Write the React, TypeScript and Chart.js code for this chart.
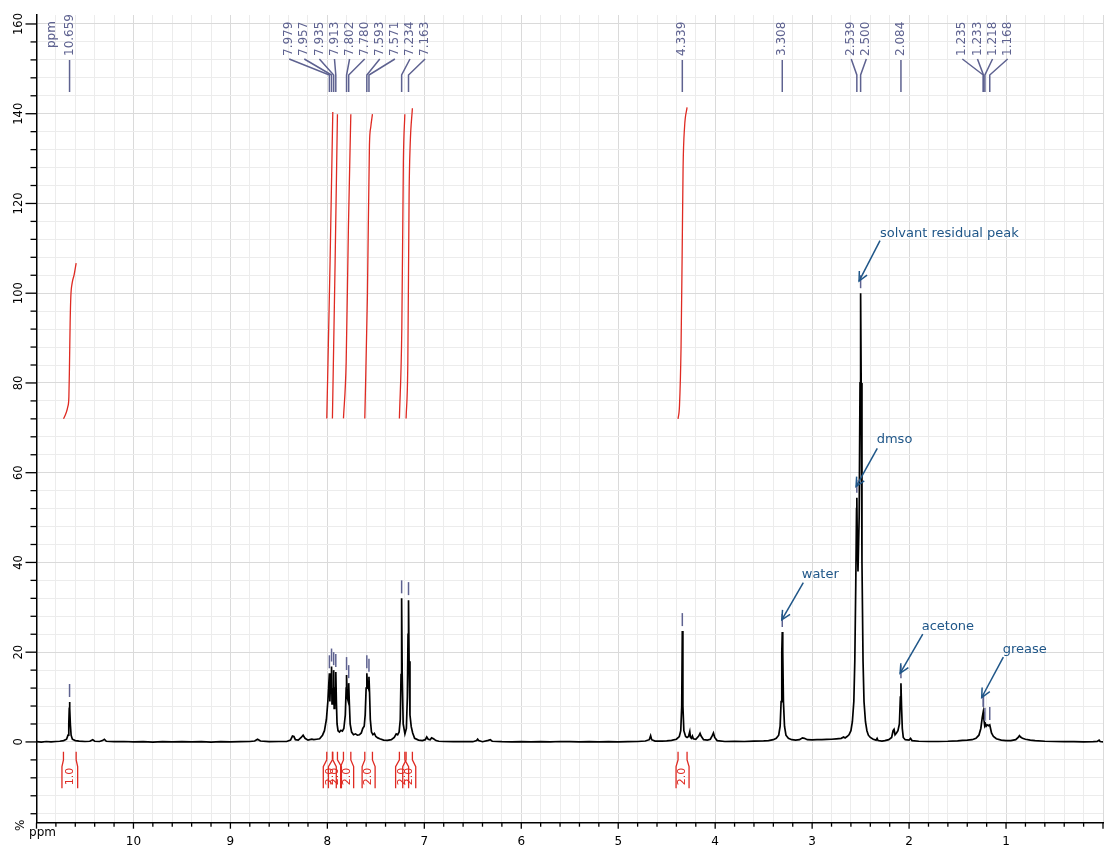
import React, { useEffect, useRef } from 'react';
import { Chart, registerables } from 'chart.js';

Chart.register(...registerables);

// ---------- data ----------
// 1H NMR trace: [chemical shift (ppm), intensity (%)]
const spectrumPoints: [number, number][] = [
  [11.0, 0.05], [10.95, -0.05], [10.9, 0.1], [10.85, 0.0], [10.8, 0.1], [10.76, 0.15], [10.72, 0.3],
  [10.69, 0.6], [10.675, 1.5], [10.667, 4.0], [10.662, 7.5], [10.659, 8.9], [10.656, 7.5], [10.651, 4.0],
  [10.643, 1.5], [10.63, 0.6], [10.6, 0.3], [10.56, 0.2], [10.5, 0.1], [10.45, 0.15], [10.42, 0.5],
  [10.40, 0.15], [10.35, 0.1], [10.32, 0.3], [10.30, 0.6], [10.28, 0.15], [10.2, 0.05], [10.1, 0.1],
  [10.0, 0.0], [9.9, 0.05], [9.8, -0.05], [9.7, 0.05], [9.6, 0.0], [9.5, 0.05], [9.4, 0.0], [9.3, 0.05],
  [9.2, -0.05], [9.1, 0.05], [9.0, 0.0], [8.9, 0.05], [8.8, 0.1], [8.75, 0.2], [8.72, 0.6], [8.69, 0.2],
  [8.6, 0.05], [8.5, 0.1], [8.42, 0.1], [8.38, 0.4], [8.36, 1.3], [8.345, 1.2], [8.33, 0.5], [8.3, 0.4],
  [8.27, 1.0], [8.25, 1.5], [8.23, 0.8], [8.2, 0.4], [8.16, 0.6], [8.14, 0.5], [8.11, 0.6], [8.08, 0.7],
  [8.05, 1.5], [8.03, 2.5], [8.01, 5.0], [7.995, 9.0], [7.985, 13.0], [7.979, 15.3], [7.974, 9.0],
  [7.968, 13.0], [7.962, 14.0], [7.957, 16.8], [7.952, 8.5], [7.946, 12.0], [7.940, 10.0], [7.935, 16.0],
  [7.930, 7.5], [7.924, 10.0], [7.918, 12.0], [7.913, 15.6], [7.907, 9.0], [7.900, 4.0], [7.89, 2.5],
  [7.875, 2.2], [7.86, 2.6], [7.845, 2.4], [7.83, 3.0], [7.815, 6.0], [7.806, 12.0], [7.802, 14.9],
  [7.796, 10.0], [7.790, 9.5], [7.784, 11.5], [7.780, 13.1], [7.774, 9.0], [7.765, 4.0], [7.75, 2.2],
  [7.73, 1.6], [7.71, 1.8], [7.69, 1.5], [7.67, 1.6], [7.65, 2.0], [7.635, 3.0], [7.62, 3.5], [7.61, 6.0],
  [7.60, 12.0], [7.593, 15.3], [7.588, 13.0], [7.582, 12.5], [7.576, 13.5], [7.571, 14.5], [7.565, 11.0],
  [7.557, 5.0], [7.545, 2.2], [7.53, 1.6], [7.515, 1.9], [7.50, 1.2], [7.48, 0.9], [7.46, 0.7], [7.42, 0.4],
  [7.38, 0.35], [7.34, 0.5], [7.31, 1.0], [7.29, 1.8], [7.275, 1.6], [7.26, 2.2], [7.248, 5.0],
  [7.240, 15.0], [7.234, 32.0], [7.228, 15.0], [7.218, 4.0], [7.20, 1.8], [7.185, 3.0], [7.175, 10.0],
  [7.168, 24.0], [7.163, 31.6], [7.157, 18.0], [7.148, 6.0], [7.135, 3.4], [7.12, 2.0], [7.10, 0.8],
  [7.06, 0.4], [7.02, 0.3], [6.99, 0.5], [6.975, 1.1], [6.96, 0.6], [6.94, 0.5], [6.925, 0.9], [6.905, 0.7],
  [6.88, 0.3], [6.85, 0.15], [6.8, 0.1], [6.7, 0.05], [6.6, 0.1], [6.5, 0.05], [6.46, 0.3], [6.45, 0.6],
  [6.44, 0.3], [6.4, 0.05], [6.34, 0.35], [6.32, 0.5], [6.3, 0.15], [6.2, 0.05], [6.1, 0.0], [6.0, 0.05],
  [5.9, 0.0], [5.8, 0.05], [5.7, 0.0], [5.6, 0.1], [5.5, 0.05], [5.4, 0.0], [5.3, 0.05], [5.2, 0.0],
  [5.1, 0.05], [5.0, 0.0], [4.9, 0.05], [4.8, 0.1], [4.72, 0.2], [4.68, 0.5], [4.666, 1.4], [4.655, 0.5],
  [4.62, 0.2], [4.55, 0.2], [4.5, 0.25], [4.45, 0.35], [4.40, 0.6], [4.37, 1.2], [4.355, 2.5],
  [4.345, 8.0], [4.339, 24.7], [4.333, 8.0], [4.323, 2.5], [4.305, 1.2], [4.29, 1.0], [4.275, 1.2],
  [4.262, 2.3], [4.255, 1.0], [4.245, 0.8], [4.235, 1.3], [4.225, 0.7], [4.2, 0.6], [4.17, 1.3],
  [4.156, 1.9], [4.145, 1.3], [4.12, 0.5], [4.08, 0.4], [4.05, 0.6], [4.03, 1.4], [4.018, 2.0],
  [4.005, 1.0], [3.98, 0.3], [3.9, 0.1], [3.8, 0.15], [3.7, 0.1], [3.6, 0.2], [3.5, 0.25], [3.45, 0.3],
  [3.40, 0.5], [3.37, 0.8], [3.345, 1.5], [3.33, 3.5], [3.32, 9.0], [3.313, 20.0], [3.308, 24.5],
  [3.303, 20.0], [3.296, 9.0], [3.285, 3.5], [3.27, 1.5], [3.245, 0.8], [3.21, 0.5], [3.17, 0.4],
  [3.13, 0.5], [3.10, 0.9], [3.08, 0.8], [3.05, 0.5], [3.0, 0.45], [2.95, 0.5], [2.9, 0.5], [2.85, 0.55],
  [2.8, 0.6], [2.75, 0.7], [2.7, 0.8], [2.675, 1.1], [2.66, 0.9], [2.64, 1.2], [2.62, 1.6], [2.60, 2.5],
  [2.585, 4.5], [2.57, 9.0], [2.56, 18.0], [2.55, 35.0], [2.542, 52.0], [2.539, 54.4], [2.534, 44.0],
  [2.527, 38.0], [2.515, 50.0], [2.506, 80.0], [2.500, 100.0], [2.494, 80.0], [2.486, 40.0],
  [2.475, 18.0], [2.465, 9.0], [2.45, 4.5], [2.435, 2.5], [2.42, 1.5], [2.40, 1.0], [2.37, 0.6],
  [2.34, 0.4], [2.33, 0.8], [2.32, 0.3], [2.28, 0.2], [2.25, 0.3], [2.21, 0.5], [2.18, 1.0], [2.165, 2.5],
  [2.155, 2.8], [2.145, 1.6], [2.13, 2.0], [2.115, 2.5], [2.10, 4.0], [2.09, 10.0], [2.084, 13.1],
  [2.078, 8.0], [2.07, 3.0], [2.06, 1.0], [2.04, 0.5], [2.0, 0.4], [1.985, 0.8], [1.97, 0.3], [1.9, 0.15],
  [1.8, 0.1], [1.7, 0.1], [1.6, 0.15], [1.5, 0.25], [1.45, 0.35], [1.4, 0.4], [1.35, 0.5], [1.31, 0.8],
  [1.28, 1.5], [1.26, 3.0], [1.245, 5.5], [1.235, 6.7], [1.228, 5.0], [1.22, 3.6], [1.212, 4.0],
  [1.205, 3.5], [1.195, 3.8], [1.18, 3.6], [1.168, 3.8], [1.16, 3.0], [1.15, 2.0], [1.13, 1.2], [1.1, 0.7],
  [1.05, 0.4], [1.0, 0.3], [0.95, 0.3], [0.9, 0.5], [0.875, 1.0], [0.862, 1.4], [0.85, 1.1], [0.83, 0.8],
  [0.8, 0.6], [0.75, 0.4], [0.7, 0.3], [0.6, 0.15], [0.5, 0.1], [0.4, 0.05], [0.3, 0.05], [0.2, 0.0],
  [0.1, 0.05], [0.06, 0.1], [0.04, 0.4], [0.03, 0.1], [0.0, 0.0],
];

// integration curves: [ppm, value]
const integral1: [number, number][] = [
  [10.722, 72.0], [10.697, 73.2], [10.677, 74.7], [10.666, 76.9], [10.66, 83.6], [10.653, 93.4],
  [10.646, 99.2], [10.632, 102.3], [10.612, 104.1], [10.591, 106.7],
];
const integral2: [number, number][] = [[8.006, 72.1], [7.972, 107.0], [7.944, 140.4]];
const integral3: [number, number][] = [[7.948, 72.1], [7.92, 107.0], [7.896, 139.9]];
const integral4: [number, number][] = [[7.834, 72.1], [7.806, 84.7], [7.783, 114.5], [7.758, 139.9]];
const integral5: [number, number][] = [[7.614, 72.1], [7.587, 99.4], [7.566, 133.0], [7.552, 137.1], [7.535, 139.9]];
const integral6: [number, number][] = [[7.257, 72.1], [7.232, 92.2], [7.216, 129.3], [7.201, 139.9]];
const integral7: [number, number][] = [[7.188, 72.1], [7.17, 84.7], [7.157, 121.9], [7.146, 133.0], [7.123, 141.2]];
const integral8: [number, number][] = [
  [4.383, 72.0], [4.368, 75.0], [4.352, 88.0], [4.341, 108.0], [4.331, 128.0], [4.316, 137.0], [4.29, 141.4],
];
const integralCurves = [integral1, integral2, integral3, integral4, integral5, integral6, integral7, integral8];
const integralLabels = ['1.0', '2.0', '2.0', '2.0', '2.0', '2.0', '2.0', '2.0'];

// peak picking labels (ppm), grouped as in the header
const peakLabelGroups: number[][] = [
  [10.659],
  [7.979, 7.957, 7.935, 7.913, 7.802, 7.78, 7.593, 7.571, 7.234, 7.163],
  [4.339],
  [3.308],
  [2.539, 2.5],
  [2.084],
  [1.235, 1.233, 1.218, 1.168],
];
const peakGroupCenters: number[] = [10.659, 7.693, 4.339, 3.308, 2.519, 2.084, 1.217];

// annotations
const annotationTexts = ['solvant residual peak', 'dmso', 'water', 'acetone', 'grease'];
const annotationTips: [number, number][] = [[2.516, 102.7], [2.547, 56.9], [3.313, 27.2], [2.093, 15.3], [1.251, 9.9]];
const annotationTails: [number, number][] = [[2.3, 111.7], [2.328, 65.4], [3.091, 35.5], [1.859, 24.0], [1.028, 18.9]];
const annotationAnchors: [number, number][] = [[2.3, 113.3], [2.334, 67.3], [3.107, 37.2], [1.87, 25.8], [1.034, 20.5]];

// axes
const xTickLabels = [10, 9, 8, 7, 6, 5, 4, 3, 2, 1];
const yTickLabels = [0, 20, 40, 60, 80, 100, 120, 140, 160];
const X_MIN = 0, X_MAX = 11, X_MINOR = 0.2;
const Y_MIN = -18, Y_MAX = 162, Y_MINOR = 4;

// ---------- styles ----------
const FONT = '"DejaVu Sans", Verdana, sans-serif';
const SLATE = '#5e6290';
const RED = '#df2a22';
const BLUE = '#1f5688';
const GRID_MAJOR = '#dadada';
const GRID_MINOR = '#ececec';

function peakHeightAt(p: number): number {
  let best = -Infinity;
  for (const [s, v] of spectrumPoints) if (Math.abs(s - p) < 0.0041 && v > best) best = v;
  return best === -Infinity ? 0 : best;
}

function minorValues(min: number, max: number, step: number): number[] {
  const out: number[] = [];
  const start = Math.ceil(min / step - 1e-9);
  const end = Math.floor(max / step + 1e-9);
  for (let k = start; k <= end; k++) out.push(+(k * step).toFixed(6));
  return out;
}

const isMultiple = (v: number, m: number) => Math.abs(v / m - Math.round(v / m)) < 1e-6;

const overlayPlugin = {
  id: 'nmrOverlay',
  afterDraw(chart: any) {
    const { ctx, chartArea: a } = chart;
    const xs = chart.scales.x, ys = chart.scales.y;
    const px = (v: number) => xs.getPixelForValue(v);
    const py = (v: number) => ys.getPixelForValue(v);
    const seg = (x1: number, y1: number, x2: number, y2: number) => {
      ctx.beginPath(); ctx.moveTo(x1, y1); ctx.lineTo(x2, y2); ctx.stroke();
    };
    const rotText = (t: string, x: number, y: number, align: CanvasTextAlign) => {
      ctx.save(); ctx.translate(x, y); ctx.rotate(-Math.PI / 2);
      ctx.textAlign = align; ctx.textBaseline = 'middle'; ctx.fillText(t, 0, 0); ctx.restore();
    };
    ctx.save();

    // ---- axis ticks ----
    ctx.strokeStyle = '#000'; ctx.lineWidth = 1.3; ctx.fillStyle = '#000';
    minorValues(X_MIN, X_MAX, X_MINOR).forEach((v) => {
      const X = px(v);
      seg(X, a.bottom, X, a.bottom + (isMultiple(v, 1) ? 6 : 4));
    });
    minorValues(Y_MIN, Y_MAX, Y_MINOR).forEach((v) => {
      const Y = py(v);
      seg(a.left, Y, a.left - (isMultiple(v, 20) ? 11 : 6), Y);
    });
    ctx.font = `12px ${FONT}`;
    ctx.textAlign = 'center'; ctx.textBaseline = 'alphabetic';
    xTickLabels.forEach((v) => ctx.fillText(String(v), px(v), a.bottom + 22.5));
    ctx.font = `11.5px ${FONT}`;
    yTickLabels.forEach((v) => rotText(String(v), a.left - 17, py(v), 'center'));
    ctx.font = `12px ${FONT}`;
    ctx.textAlign = 'center';
    ctx.fillText('ppm', a.left + 6, a.bottom + 13.5);
    rotText('%', a.left - 16, a.bottom + 2.5, 'center');

    // ---- peak labels ----
    ctx.strokeStyle = SLATE; ctx.fillStyle = SLATE; ctx.lineWidth = 1.5;
    ctx.font = `12px ${FONT}`;
    rotText('ppm', a.left + 15, a.top + 33, 'left');
    const spacing = 15.1;
    peakLabelGroups.forEach((g, gi) => {
      const n = g.length;
      const cx = px(peakGroupCenters[gi]);
      g.forEach((p, i) => {
        const X = px(p);
        const lx = n === 1 ? X : cx + (i - (n - 1) / 2) * spacing;
        rotText(p.toFixed(3), lx, a.top + 41, 'left');
        ctx.beginPath();
        if (n === 1) {
          ctx.moveTo(X, a.top + 45); ctx.lineTo(X, a.top + 77);
        } else {
          ctx.moveTo(lx, a.top + 44); ctx.lineTo(X, a.top + 60); ctx.lineTo(X, a.top + 77);
        }
        ctx.stroke();
        // marker above the peak
        const yb = py(peakHeightAt(p)) - 5;
        seg(X, yb, X, yb - 13);
      });
    });

    // ---- integration brackets ----
    ctx.strokeStyle = RED; ctx.fillStyle = RED; ctx.lineWidth = 1.3;
    ctx.font = `11px ${FONT}`;
    integralCurves.forEach((c, i) => {
      const x1 = px(c[0][0]), x2 = px(c[c.length - 1][0]);
      const cx = (x1 + x2) / 2;
      const hwT = Math.abs(x2 - x1) / 2;
      const hwB = Math.max(hwT + 1.5, 6.5);
      const yT = py(-2.2), yB1 = py(-4.0), yB2 = py(-5.5), yBot = py(-10.3);
      for (const s of [-1, 1]) {
        ctx.beginPath();
        ctx.moveTo(cx + s * hwT, yT); ctx.lineTo(cx + s * hwT, yB1);
        ctx.lineTo(cx + s * hwB, yB2); ctx.lineTo(cx + s * hwB, yBot);
        ctx.stroke();
      }
      rotText(integralLabels[i], cx, py(-7.7), 'center');
    });

    // ---- annotations ----
    ctx.strokeStyle = BLUE; ctx.fillStyle = BLUE; ctx.lineWidth = 1.5;
    ctx.font = `13px ${FONT}`;
    annotationTexts.forEach((t, i) => {
      const [tx, ty] = [px(annotationTails[i][0]), py(annotationTails[i][1])];
      const [hx, hy] = [px(annotationTips[i][0]), py(annotationTips[i][1])];
      seg(tx, ty, hx, hy);
      const ang = Math.atan2(hy - ty, hx - tx);
      const L = 10, da = 0.45;
      ctx.beginPath();
      ctx.moveTo(hx - L * Math.cos(ang - da), hy - L * Math.sin(ang - da));
      ctx.lineTo(hx, hy);
      ctx.lineTo(hx - L * Math.cos(ang + da), hy - L * Math.sin(ang + da));
      ctx.stroke();
      ctx.textAlign = 'left'; ctx.textBaseline = 'middle';
      ctx.fillText(t, px(annotationAnchors[i][0]), py(annotationAnchors[i][1]));
    });

    ctx.restore();
  },
};

export default function App() {
  const ref = useRef<HTMLCanvasElement | null>(null);
  useEffect(() => {
    document.body.style.margin = '0';
    const canvas = ref.current;
    if (!canvas) return;
    const toXY = (pts: [number, number][]) => pts.map(([x, y]) => ({ x, y }));
    const chart = new Chart(canvas, {
      type: 'line',
      data: {
        datasets: [
          {
            data: toXY(spectrumPoints),
            borderColor: '#000',
            borderWidth: 1.7,
            pointRadius: 0,
            tension: 0,
            fill: false,
          },
          ...integralCurves.map((c) => ({
            data: toXY(c),
            borderColor: RED,
            borderWidth: 1.3,
            pointRadius: 0,
            cubicInterpolationMode: 'monotone' as const,
            fill: false,
          })),
        ],
      },
      options: {
        responsive: false,
        animation: false,
        events: [],
        layout: { padding: { left: 0, top: 15, right: 5, bottom: 0 } },
        plugins: { legend: { display: false }, tooltip: { enabled: false }, title: { display: false } },
        scales: {
          x: {
            type: 'linear',
            min: X_MIN,
            max: X_MAX,
            reverse: true,
            ticks: { display: false },
            afterBuildTicks: (s: any) => {
              s.ticks = minorValues(X_MIN, X_MAX, X_MINOR).map((value) => ({ value }));
            },
            grid: {
              drawTicks: false,
              lineWidth: 1,
              color: (c: any) => {
                const v = c.tick ? c.tick.value : NaN;
                return isMultiple(v, 1) ? GRID_MAJOR : GRID_MINOR;
              },
            },
            border: { display: true, color: '#000', width: 1.5 },
            afterFit: (s: any) => { s.height = 24.3; },
          },
          y: {
            type: 'linear',
            min: Y_MIN,
            max: Y_MAX,
            ticks: { display: false },
            afterBuildTicks: (s: any) => {
              s.ticks = minorValues(Y_MIN, Y_MAX, Y_MINOR).map((value) => ({ value }));
            },
            grid: {
              drawTicks: false,
              lineWidth: 1,
              color: (c: any) => {
                const v = c.tick ? c.tick.value : NaN;
                return isMultiple(v, 20) ? GRID_MAJOR : GRID_MINOR;
              },
            },
            border: { display: true, color: '#000', width: 1.5 },
            afterFit: (s: any) => { s.width = 36.5; },
          },
        },
      },
      plugins: [overlayPlugin],
    } as any);
    return () => chart.destroy();
  }, []);
  return <canvas ref={ref} width={1108} height={847} style={{ display: 'block' }} />;
}
